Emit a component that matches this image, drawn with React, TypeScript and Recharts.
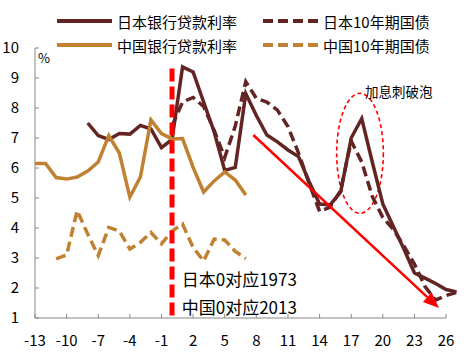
import React from "react";
import { LineChart, Line, XAxis, YAxis, ReferenceLine, ReferenceArea, ReferenceDot } from "recharts";

// x 轴：0 对应 日本1973 / 中国2013
const years = [
  -13, -12, -11, -10, -9, -8, -7, -6, -5, -4, -3, -2, -1, 0, 1, 2, 3, 4, 5, 6, 7,
  8, 9, 10, 11, 12, 13, 14, 15, 16, 17, 18, 19, 20, 21, 22, 23, 24, 25, 26, 27,
];

const jpLoan = [
  null, null, null, null, null, 7.5, 7.08, 6.95, 7.15, 7.13, 7.42, 7.3, 6.68, 6.95, 9.37, 9.2, 8.2, 7.2, 5.92, 6.02, 8.48,
  7.75, 7.1, 6.87, 6.6, 6.38, 5.55, 4.8, 4.77, 5.2, 7.0, 7.65, 6.2, 4.8, 4.05, 3.3, 2.5, 2.33, 2.15, 1.95, 1.87,
];

const jpBond = [
  null, null, null, null, null, null, null, null, null, null, null, null, null, 7.4, 8.2, 8.35, 8.05, 7.25, 6.35, 7.4, 8.88,
  8.32, 8.2, 7.93, 7.38, 6.5, 5.5, 4.55, 4.7, 5.25, 6.9, 6.2, 5.05, 4.35, 3.95, 3.4, 2.8, 2.05, 1.6, 1.75, 1.85,
];

const cnLoan = [
  6.15, 6.15, 5.68, 5.63, 5.7, 5.9, 6.2, 7.08, 6.5, 5.03, 5.7, 7.6, 7.15, 6.97, 6.98, 6.02, 5.2, 5.57, 5.87, 5.6, 5.1,
  null, null, null, null, null, null, null, null, null, null, null, null, null, null, null, null, null, null, null, null,
];

const cnBond = [
  null, null, 2.97, 3.1, 4.58, 3.8, 3.08, 4.02, 3.9, 3.3, 3.52, 3.85, 3.47, 3.9, 4.13, 3.35, 2.9, 3.63, 3.6, 3.22, 2.98,
  null, null, null, null, null, null, null, null, null, null, null, null, null, null, null, null, null, null, null, null,
];

const xTicks = [-13, -10, -7, -4, -1, 2, 5, 8, 11, 14, 17, 20, 23, 26];
const yTicks = [1, 2, 3, 4, 5, 6, 7, 8, 9, 10];

const series = [
  { key: "jpLoan", name: "日本银行贷款利率", color: "#632523", dashed: false },
  { key: "jpBond", name: "日本10年期国债", color: "#632523", dashed: true },
  { key: "cnLoan", name: "中国银行贷款利率", color: "#C08232", dashed: false },
  { key: "cnBond", name: "中国10年期国债", color: "#C08232", dashed: true },
];

// annotations, in data coordinates
const splitLine = [{ x: 0, y: 9.32 }, { x: 0, y: 1 }];
const axisLine = [{ x: -13, y: 1 }, { x: 26, y: 1 }];
const trendArrow = [{ x: 7.71, y: 7.1 }, { x: 25.33, y: 1.33 }];
const bubble = { x1: 15.62, x2: 20.05, y1: 4.49, y2: 8.49 };
const notes = [
  { x: 0.92, y: 2.33, text: "日本0对应1973" },
  { x: 0.92, y: 1.38, text: "中国0对应2013" },
];
const bubbleNote = { x: 18.31, y: 8.58, text: "加息刺破泡" };
const unitNote = { x: -12.72, y: 9.7, text: "%" };

const data = years.map((x, i) => ({
  x,
  jpLoan: jpLoan[i],
  jpBond: jpBond[i],
  cnLoan: cnLoan[i],
  cnBond: cnBond[i],
}));

const FONT = '"Noto Sans CJK SC", "Noto Sans", sans-serif';

const Arrow = (p: any) => {
  const { x1, y1, x2, y2 } = p;
  const a = Math.atan2(y2 - y1, x2 - x1);
  const len = 16;
  const half = 6.5;
  const bx = x2 - len * Math.cos(a);
  const by = y2 - len * Math.sin(a);
  const pts = [
    [x2, y2],
    [bx - half * Math.sin(a), by + half * Math.cos(a)],
    [bx + half * Math.sin(a), by - half * Math.cos(a)],
  ]
    .map((q) => q.join(","))
    .join(" ");
  return (
    <g>
      <line x1={x1} y1={y1} x2={bx} y2={by} stroke="#FF0000" strokeWidth={2.5} />
      <polygon points={pts} fill="#FF0000" />
    </g>
  );
};

const Ellipse = (p: any) => (
  <ellipse
    cx={p.x + p.width / 2}
    cy={p.y + p.height / 2}
    rx={p.width / 2}
    ry={p.height / 2}
    fill="none"
    stroke="#FF0000"
    strokeWidth={1.6}
    strokeDasharray="4 3"
  />
);

const textShape = (text: string, size: number) => (p: any) => (
  <text x={p.cx} y={p.cy} fontSize={size} fill="#000" dominantBaseline="central" fontFamily={FONT}>
    {text}
  </text>
);

function LegendBox() {
  const pos = [
    { left: 57, top: 21 },
    { left: 263, top: 21 },
    { left: 57, top: 45 },
    { left: 263, top: 45 },
  ];
  return (
    <>
      {series.map((s, i) => (
        <div
          key={s.key}
          style={{
            position: "absolute",
            left: pos[i].left,
            top: pos[i].top - 11,
            height: 22,
            display: "flex",
            alignItems: "center",
            fontSize: 15,
            color: "#000",
            whiteSpace: "nowrap",
          }}
        >
          <svg width={55} height={8} style={{ marginRight: 5 }}>
            <line
              x1={0}
              y1={4}
              x2={55}
              y2={4}
              stroke={s.color}
              strokeWidth={4}
              strokeDasharray={s.dashed ? "10 5" : undefined}
            />
          </svg>
          <span>{s.name}</span>
        </div>
      ))}
    </>
  );
}

export default function App() {
  return (
    <div style={{ position: "relative", width: 476, height: 352, fontFamily: FONT, background: "#fff" }}>
      <style>{`body{margin:0}`}</style>
      <LineChart width={476} height={352} data={data} margin={{ top: 48, right: 19.4, bottom: 4, left: 0 }}>
        <XAxis
          dataKey="x"
          type="number"
          domain={[-13, 27]}
          ticks={xTicks}
          interval={0}
          height={30}
          axisLine={false}
          tickLine={{ stroke: "#888" }}
          tickSize={-4}
          tickMargin={21}
          tick={{ fill: "#000", fontSize: 15, fontFamily: FONT }}
        />
        <YAxis
          type="number"
          domain={[1, 10]}
          ticks={yTicks}
          interval={0}
          width={35}
          axisLine={{ stroke: "#888" }}
          tickLine={{ stroke: "#888" }}
          tickSize={-4}
          tickMargin={20}
          tick={{ fill: "#000", fontSize: 15, fontFamily: FONT }}
        />
        <ReferenceLine segment={axisLine} stroke="#888" strokeWidth={1} />
        {series.map((s) => (
          <Line
            key={s.key}
            dataKey={s.key}
            name={s.name}
            type="linear"
            stroke={s.color}
            strokeWidth={3.5}
            strokeDasharray={s.dashed ? "10 5" : undefined}
            dot={false}
            activeDot={false}
            isAnimationActive={false}
          />
        ))}
        <ReferenceLine segment={splitLine} stroke="#FF0000" strokeWidth={5} strokeDasharray="13 5" />
        <ReferenceLine segment={trendArrow} shape={Arrow} />
        <ReferenceArea {...bubble} shape={Ellipse} />
        {notes.map((n) => (
          <ReferenceDot key={n.text} x={n.x} y={n.y} r={0} shape={textShape(n.text, 17)} />
        ))}
        <ReferenceDot x={bubbleNote.x} y={bubbleNote.y} r={0} shape={textShape(bubbleNote.text, 13.5)} />
        <ReferenceDot x={unitNote.x} y={unitNote.y} r={0} shape={textShape(unitNote.text, 13)} />
      </LineChart>
      <LegendBox />
    </div>
  );
}
